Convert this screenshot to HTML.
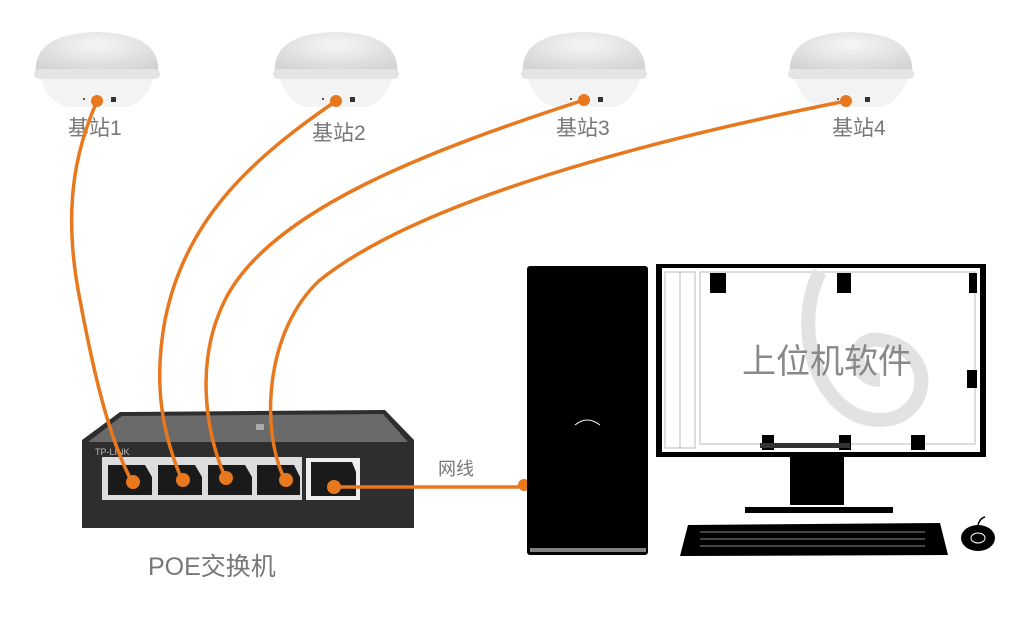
<!DOCTYPE html>
<html><head><meta charset="utf-8"><style>
body{margin:0;background:#fff;}
svg{display:block}
text{font-family:"Liberation Sans","Noto Sans CJK SC",sans-serif;}
</style></head><body>
<svg width="1030" height="617" viewBox="0 0 1030 617" xmlns="http://www.w3.org/2000/svg">
<defs>
<radialGradient id="dome" cx="50%" cy="30%" r="70%">
<stop offset="0" stop-color="#f6f6f6"/><stop offset="1" stop-color="#d2d2d2"/>
</radialGradient>
<g id="bs">
<path d="M-61,50 Q-64,22 -35,12 Q0,2 35,12 Q64,22 61,50 Z" fill="url(#dome)"/>
<rect x="-63" y="44" width="126" height="10" rx="5" fill="#e4e4e4"/>
<path d="M-56,54 L56,54 Q50,76 30,82 L-30,82 Q-50,76 -56,54 Z" fill="#f3f3f3"/>
<rect x="14" y="72" width="5" height="5" fill="#333"/>
<rect x="-14" y="73" width="2" height="2" fill="#555"/>
</g>
</defs>
<!-- base stations -->
<use href="#bs" transform="translate(97,25)"/>
<use href="#bs" transform="translate(336,25)"/>
<use href="#bs" transform="translate(584,25)"/>
<use href="#bs" transform="translate(851,25)"/>
<g font-size="21" fill="#777">
<text x="68" y="135">基站1</text>
<text x="312" y="140">基站2</text>
<text x="556" y="135">基站3</text>
<text x="832" y="135">基站4</text>
</g>
<!-- switch -->
<path d="M82,440 L120,412 L385,410 L414,440 L414,528 L82,528 Z" fill="#2e2e2e"/>
<path d="M88,442 L122,416 L383,414 L408,442 Z" fill="#6a6a6a"/>
<rect x="256" y="424" width="8" height="6" fill="#aaa"/>
<text x="95" y="455" font-size="9" fill="#bbb">TP-LINK</text>
<rect x="102" y="457" width="200" height="43" fill="#ddd"/>
<rect x="306" y="458" width="54" height="42" fill="#eee"/>
<g fill="#1a1a1a">
<path d="M108,465 L145,465 L152,477 L152,495 L108,495 Z"/>
<path d="M158,465 L195,465 L202,477 L202,495 L158,495 Z"/>
<path d="M208,465 L245,465 L252,477 L252,495 L208,495 Z"/>
<path d="M257,465 L294,465 L300,477 L300,495 L257,495 Z"/>
<path d="M311,462 L352,462 L356,472 L356,496 L311,496 Z"/>
</g>
<!-- cables -->
<g stroke="#e8781e" stroke-width="3.5" fill="none">
<path d="M97,101 C80,140 60,200 80,300 C95,380 110,440 132,482"/>
<path d="M336,101 C250,160 185,220 165,320 C152,390 165,440 182,480"/>
<path d="M584,100 C430,150 270,210 225,300 C195,360 205,430 225,477"/>
<path d="M846,101 C650,140 420,200 320,280 C265,330 260,430 285,480"/>
<path d="M334,487 L524,487"/>
</g>
<g fill="#e8781e">
<circle cx="97" cy="101" r="6"/><circle cx="336" cy="101" r="6"/><circle cx="584" cy="100" r="6"/><circle cx="846" cy="101" r="6"/>
<circle cx="133" cy="482" r="7"/><circle cx="183" cy="480" r="7"/><circle cx="226" cy="478" r="7"/><circle cx="286" cy="480" r="7"/><circle cx="334" cy="487" r="7"/>
<circle cx="524" cy="485" r="6"/>
</g>
<text x="438" y="475" font-size="18" fill="#777">网线</text>
<text x="148" y="575" font-size="25" fill="#777">POE交换机</text>
<!-- tower -->
<rect x="527" y="266" width="121" height="289" rx="3" fill="#000"/>
<rect x="530" y="548" width="116" height="4" fill="#fff" opacity="0.5"/>
<path d="M575,425 Q587,415 600,425" stroke="#fff" stroke-width="1" fill="none"/>
<!-- monitor -->
<rect x="656" y="264" width="330" height="193" fill="#000"/>
<rect x="662" y="268" width="318" height="184" fill="#fff"/>
<g stroke="#bbb" stroke-width="1" fill="none">
<rect x="665" y="272" width="30" height="176"/>
<line x1="680" y1="272" x2="680" y2="448"/>
<rect x="700" y="272" width="275" height="172"/>
</g>
<path d="M820,272 C790,330 820,420 880,420 C930,420 940,350 880,340 C850,335 850,380 880,380" stroke="#e2e2e2" stroke-width="14" fill="none"/>
<rect x="710" y="273" width="16" height="20" fill="#000"/>
<rect x="837" y="273" width="14" height="20" fill="#000"/>
<rect x="969" y="273" width="8" height="20" fill="#000"/>
<rect x="967" y="370" width="10" height="18" fill="#000"/>
<rect x="762" y="435" width="12" height="15" fill="#000"/>
<rect x="839" y="435" width="12" height="15" fill="#000"/>
<rect x="911" y="435" width="14" height="15" fill="#000"/>
<rect x="760" y="443" width="90" height="5" fill="#333"/>
<text x="742" y="373" font-size="34" fill="#888">上位机软件</text>
<!-- stand -->
<rect x="790" y="455" width="54" height="50" fill="#000"/>
<rect x="745" y="507" width="148" height="6" fill="#000"/>
<!-- keyboard -->
<path d="M688,525 L940,523 L948,555 L680,556 Z" fill="#000"/>
<g stroke="#888" stroke-width="1">
<line x1="700" y1="532" x2="925" y2="532"/><line x1="700" y1="539" x2="925" y2="539"/><line x1="700" y1="546" x2="925" y2="546"/>
</g>
<ellipse cx="978" cy="538" rx="17" ry="13" fill="#000"/>
<ellipse cx="978" cy="538" rx="7" ry="5" fill="none" stroke="#fff" stroke-width="1"/>
<path d="M978,525 Q980,518 985,517" stroke="#000" stroke-width="1.5" fill="none"/>
</svg>
</body></html>
